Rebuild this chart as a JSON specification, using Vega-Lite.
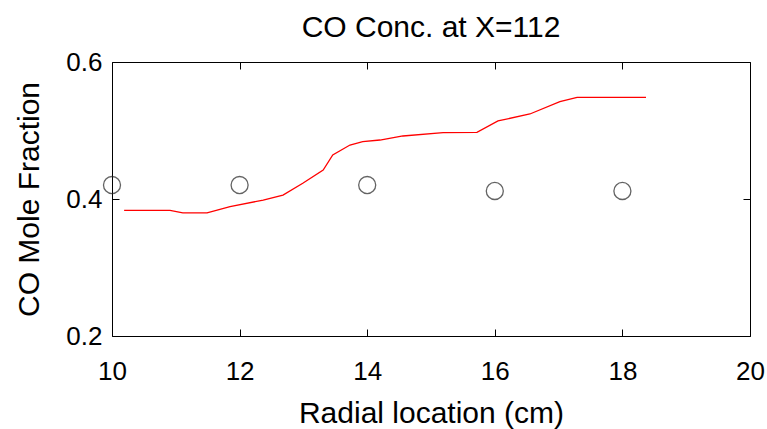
{
  "$schema": "https://vega.github.io/schema/vega-lite/v6.json",
  "width": 638,
  "height": 274,
  "autosize": "none",
  "padding": {"left": 112, "top": 62, "right": 17, "bottom": 93},
  "background": "white",
  "config": {
    "font": "Liberation Sans",
    "view": {"stroke": "black", "strokeWidth": 1},
    "axis": {"grid": false, "domain": false, "tickColor": "black", "labelColor": "black", "titleColor": "black", "labelFont": "Liberation Sans", "titleFont": "Liberation Sans", "labelFontSize": 26, "titleFontSize": 30, "titleFontWeight": "normal", "tickSize": 7, "offset": -7, "tickWidth": 1, "labelFlush": false, "labelOverlap": false}
  },
  "title": {"text": "CO Conc. at X=112", "fontSize": 30, "fontWeight": "normal", "font": "Liberation Sans", "color": "black", "anchor": "middle", "offset": 6},
  "datasets": {
    "model": [
      {"r": 10.19, "co": 0.3835},
      {"r": 10.91, "co": 0.3835},
      {"r": 11.11, "co": 0.3796},
      {"r": 11.49, "co": 0.3796},
      {"r": 11.85, "co": 0.3888},
      {"r": 12.37, "co": 0.3985},
      {"r": 12.68, "co": 0.4058},
      {"r": 12.99, "co": 0.4229},
      {"r": 13.31, "co": 0.4423},
      {"r": 13.46, "co": 0.4642},
      {"r": 13.73, "co": 0.4788},
      {"r": 13.93, "co": 0.4837},
      {"r": 14.2, "co": 0.4861},
      {"r": 14.56, "co": 0.492},
      {"r": 15.19, "co": 0.4968},
      {"r": 15.72, "co": 0.4974},
      {"r": 16.05, "co": 0.5139},
      {"r": 16.55, "co": 0.5241},
      {"r": 17.02, "co": 0.542},
      {"r": 17.29, "co": 0.5485},
      {"r": 18.37, "co": 0.5485}
    ],
    "measured": [
      {"r": 10, "co": 0.4204},
      {"r": 12, "co": 0.4204},
      {"r": 14, "co": 0.4204},
      {"r": 16, "co": 0.4117},
      {"r": 18, "co": 0.4117}
    ]
  },
  "layer": [
    {
      "data": {"name": "model"},
      "mark": {"type": "line", "color": "#ff0000", "strokeWidth": 1.3, "clip": false},
      "encoding": {
        "x": {"field": "r", "type": "quantitative", "scale": {"domain": [10, 20], "nice": false, "zero": false},
              "axis": {"orient": "bottom", "values": [10, 12, 14, 16, 18, 20], "format": "d", "title": "Radial location (cm)", "labelPadding": 22, "titlePadding": 14}},
        "y": {"field": "co", "type": "quantitative", "scale": {"domain": [0.2, 0.6], "nice": false, "zero": false},
              "axis": {"orient": "left", "values": [0.2, 0.4, 0.6], "format": ".1f", "title": "CO Mole Fraction", "labelPadding": 10, "titlePadding": 21}}
      }
    },
    {
      "data": {"name": "measured"},
      "mark": {"type": "point", "shape": "circle", "filled": false, "stroke": "#222222", "strokeWidth": 1.3, "size": 290, "clip": false},
      "encoding": {
        "x": {"field": "r", "type": "quantitative",
              "axis": {"orient": "top", "values": [10, 12, 14, 16, 18, 20], "labels": false, "title": null}},
        "y": {"field": "co", "type": "quantitative",
              "axis": {"orient": "right", "values": [0.2, 0.4, 0.6], "labels": false, "title": null}}
      }
    }
  ],
  "resolve": {"axis": {"x": "independent", "y": "independent"}}
}
